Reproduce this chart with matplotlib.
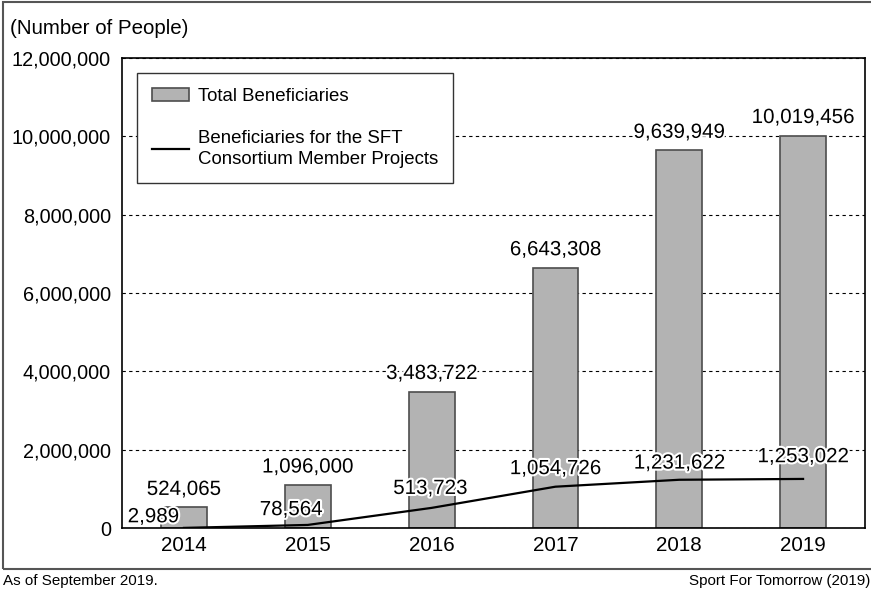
import matplotlib
matplotlib.use("Agg")
import matplotlib.pyplot as plt
import matplotlib.patheffects as pe
from matplotlib.patches import Rectangle
from matplotlib.ticker import FuncFormatter

plt.rcParams['font.family'] = ['Liberation Sans', 'DejaVu Sans']

years = ['2014', '2015', '2016', '2017', '2018', '2019']
total = [524065, 1096000, 3483722, 6643308, 9639949, 10019456]
consortium = [2989, 78564, 513723, 1054726, 1231622, 1253022]

# label offsets (points) for the line values
line_offsets = [(-22, 8), (-12, 11), (-1, 14), (0, 13), (0, 12), (0, 16)]

fig = plt.figure(figsize=(8.71, 5.94), dpi=100)
ax = fig.add_axes([0.1401, 0.1111, 0.8530, 0.7913])

x = range(len(years))
halo = [pe.withStroke(linewidth=3, foreground='white')]
fs = 14.8

bars = ax.bar(x, total, width=0.37, color='#b3b3b3', edgecolor='#4d4d4d',
              linewidth=1.2, label='Total Beneficiaries', zorder=2)
line, = ax.plot(x, consortium, color='black', linewidth=1.6,
                label='Beneficiaries for the SFT\nConsortium Member Projects', zorder=3)

for i, v in enumerate(total):
    ax.annotate(f'{v:,}', (i, v), xytext=(0, 13), textcoords='offset points',
                ha='center', va='center', fontsize=fs, path_effects=halo, zorder=4)
for i, v in enumerate(consortium):
    dx, dy = line_offsets[i]
    ax.annotate(f'{v:,}', (i, v), xytext=(dx, dy), textcoords='offset points',
                ha='center', va='center', fontsize=fs, path_effects=halo, zorder=4)

ax.set_xlim(-0.5, 5.5)
ax.set_ylim(0, 12000000)
ax.set_xticks(list(x))
ax.set_xticklabels(years)
ax.set_yticks(range(0, 12000001, 2000000))
ax.yaxis.set_major_formatter(FuncFormatter(lambda v, p: f'{int(v):,}'))
ax.tick_params(axis='both', length=0, labelsize=fs)
ax.tick_params(axis='y', pad=8, labelsize=14.3)
ax.tick_params(axis='x', pad=6)
for s in ax.spines.values():
    s.set_linewidth(1.2)
    s.set_color('black')
ax.grid(axis='y', color='black', linestyle=(0, (3, 3)), linewidth=0.8, zorder=0)
ax.set_axisbelow(True)

leg = ax.legend([bars, line], [bars.get_label(), line.get_label()],
                loc='upper left', bbox_to_anchor=(0.02, 0.968), fontsize=13.4,
                frameon=True, fancybox=False, framealpha=1, edgecolor='#333333',
                handlelength=2.0, handleheight=0.7, labelspacing=1.35,
                borderpad=0.8, handletextpad=0.5, borderaxespad=0)
leg.get_frame().set_linewidth(1.0)
for t in leg.get_texts():
    t.set_linespacing(1.3)

fig.text(10 / 871, 1 - 28 / 594, '(Number of People)', fontsize=fs,
         ha='left', va='center')

# outer frame around the chart, running off the right edge
fig.patches.append(Rectangle((3 / 871, 1 - 569 / 594), 1.0, 567 / 594,
                             transform=fig.transFigure, fill=False,
                             edgecolor='#555555', linewidth=1.5))

fig.text(3 / 871, 1 - 581 / 594, 'As of September 2019.', fontsize=10.9,
         ha='left', va='center')
fig.text(870 / 871, 1 - 581 / 594, 'Sport For Tomorrow (2019)', fontsize=10.9,
         ha='right', va='center')

fig.savefig('out.png', dpi=100)
